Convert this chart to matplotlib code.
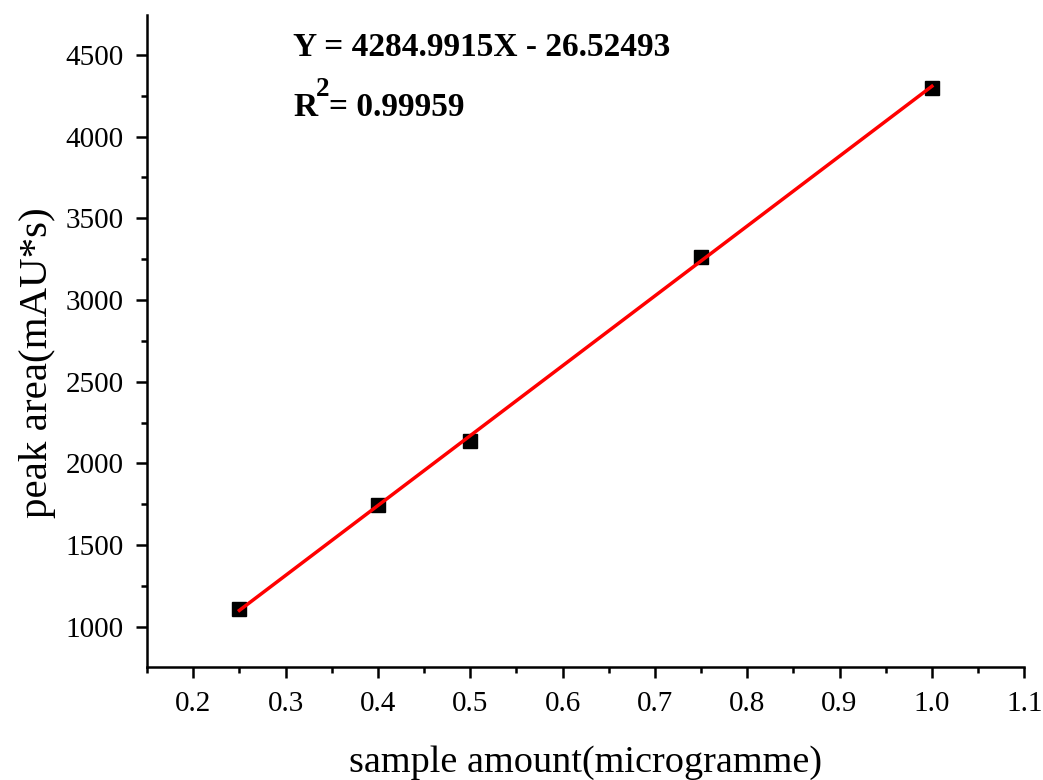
import matplotlib
matplotlib.use("Agg")
import matplotlib.pyplot as plt
import numpy as np
from matplotlib.ticker import MultipleLocator

x_vals = [0.25, 0.4, 0.5, 0.75, 1.0]
y_vals = [1110, 1745, 2140, 3265, 4300]
x_ticks = [0.2, 0.3, 0.4, 0.5, 0.6, 0.7, 0.8, 0.9, 1.0, 1.1]
y_ticks = [1000, 1500, 2000, 2500, 3000, 3500, 4000, 4500]
eq_text = "Y = 4284.9915X - 26.52493"
r2_base = "R"
r2_sup = "2"
r2_rest = "= 0.99959"

plt.rcParams['font.family'] = ['Liberation Serif', 'DejaVu Serif']

W, H = 1043, 780
fig = plt.figure(figsize=(W / 100, H / 100), dpi=100)
ax = fig.add_axes([0.141, 0.145, 0.841, 0.836])

xs = np.array(x_vals)
ys = np.array(y_vals)
slope, intercept = np.polyfit(xs, ys, 1)
ax.plot(xs, ys, 's', color='black', markersize=10.5, zorder=2)
xl = np.array([xs.min(), xs.max()])
ax.plot(xl, slope * xl + intercept, color='#ff0000', lw=2.5, zorder=3)

ax.set_xlim(0.15, 1.1)
ax.set_ylim(755, 4745)
ax.set_xticks(x_ticks)
ax.set_xticklabels([f"{v:.1f}" for v in x_ticks])
ax.set_yticks(y_ticks)
ax.xaxis.set_minor_locator(MultipleLocator(0.05))
ax.yaxis.set_minor_locator(MultipleLocator(250))

for s in ['top', 'right']:
    ax.spines[s].set_visible(False)
for s in ['left', 'bottom']:
    ax.spines[s].set_linewidth(1.8)

ax.tick_params(which='major', direction='out', length=8, width=1.8, labelsize=21, pad=9)
ax.tick_params(which='minor', direction='out', length=4, width=1.8)

ax.set_xlabel("sample amount(microgramme)", fontsize=27.5, labelpad=21)
ax.set_ylabel("peak area(mAU*s)", fontsize=29.5)
ax.yaxis.set_label_coords(-0.104, 0.466)

# equation text, placed in pixel coordinates
fig.text(293 / W, 1 - 56 / H, eq_text, fontsize=24, fontweight='bold',
         va='baseline', ha='left')
fig.canvas.draw()
r = fig.text(293 / W, 1 - 116 / H, r2_base, fontsize=24, fontweight='bold',
             va='baseline', ha='left')
fig.canvas.draw()
bb = r.get_window_extent()
s2 = fig.text((bb.x1 - 1) / W, 1 - 96 / H, r2_sup, fontsize=19.5, fontweight='bold',
              va='baseline', ha='left')
fig.canvas.draw()
bb2 = s2.get_window_extent()
fig.text((bb2.x1 - 1) / W, 1 - 116 / H, r2_rest, fontsize=24, fontweight='bold',
         va='baseline', ha='left')

fig.savefig("out.png", dpi=100)
